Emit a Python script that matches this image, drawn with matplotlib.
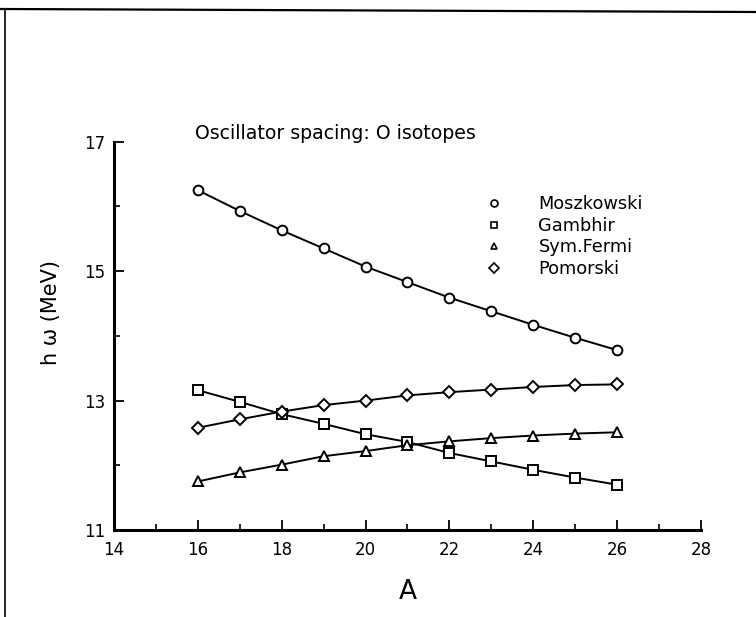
import matplotlib
matplotlib.use("Agg")
import matplotlib.pyplot as plt
from matplotlib.lines import Line2D

# Oscillator spacing for O isotopes
mass_number = [16, 17, 18, 19, 20, 21, 22, 23, 24, 25, 26]
moszkowski = [16.25, 15.93, 15.63, 15.35, 15.07, 14.83, 14.59, 14.38, 14.17, 13.97, 13.78]
gambhir = [13.16, 12.98, 12.79, 12.64, 12.48, 12.36, 12.19, 12.06, 11.93, 11.81, 11.70]
sym_fermi = [11.75, 11.89, 12.01, 12.14, 12.22, 12.31, 12.37, 12.42, 12.46, 12.49, 12.51]
pomorski = [12.58, 12.71, 12.83, 12.93, 13.00, 13.08, 13.13, 13.17, 13.21, 13.24, 13.25]

series = [
    ("Moszkowski", moszkowski, "o"),
    ("Gambhir", gambhir, "s"),
    ("Sym.Fermi", sym_fermi, "^"),
    ("Pomorski", pomorski, "D"),
]
marker_size = {"o": 7, "s": 7, "^": 7, "D": 6}

fig = plt.figure(figsize=(7.56, 6.17), dpi=100)
ax = fig.add_axes([114 / 756, 1 - 530 / 617, 587 / 756, 388.3 / 617])

for name, vals, mk in series:
    ax.plot(mass_number, vals, color="black", linewidth=1.4, marker=mk,
            markersize=marker_size[mk], markerfacecolor="white",
            markeredgecolor="black", markeredgewidth=1.4, zorder=3)

ax.set_xlim(14, 28)
ax.set_ylim(11, 17)
ax.set_xticks(range(14, 29, 2))
ax.set_xticks(range(14, 29), minor=True)
ax.set_yticks(range(11, 18, 2))
ax.set_yticks(range(11, 18), minor=True)

for side in ("top", "right"):
    ax.spines[side].set_visible(False)
for side in ("left", "bottom"):
    ax.spines[side].set_linewidth(2.2)

ax.tick_params(axis="both", which="major", direction="in", length=7, width=1.3,
               labelsize=12, pad=8)
ax.tick_params(axis="both", which="minor", direction="in", length=4, width=1.2)
ax.tick_params(axis="y", pad=6)

ax.set_xlabel("A", fontsize=19, labelpad=14)
ax.set_ylabel("h ω (MeV)", fontsize=15, labelpad=17, y=0.56)

ax.text(0.377, 1.022, "Oscillator spacing: O isotopes", transform=ax.transAxes,
        ha="center", va="center", fontsize=13.6)

handles = [Line2D([], [], linestyle="none", marker=mk, markersize=5,
                  markerfacecolor="white", markeredgecolor="black",
                  markeredgewidth=1.2) for _, _, mk in series]
ax.legend(handles, [s[0] for s in series], loc="upper left",
          bbox_to_anchor=(0.602, 0.885), frameon=False, fontsize=12.8,
          handletextpad=1.5, labelspacing=0.2, borderpad=0)

# scanned page frame (top and left edges)
fig.add_artist(Line2D([0, 1], [1 - 9 / 617, 1 - 12 / 617], color="black", linewidth=1.6))
fig.add_artist(Line2D([5 / 756, 5 / 756], [0, 1 - 9 / 617], color="black", linewidth=1.2))

fig.savefig("out.png", dpi=100)
